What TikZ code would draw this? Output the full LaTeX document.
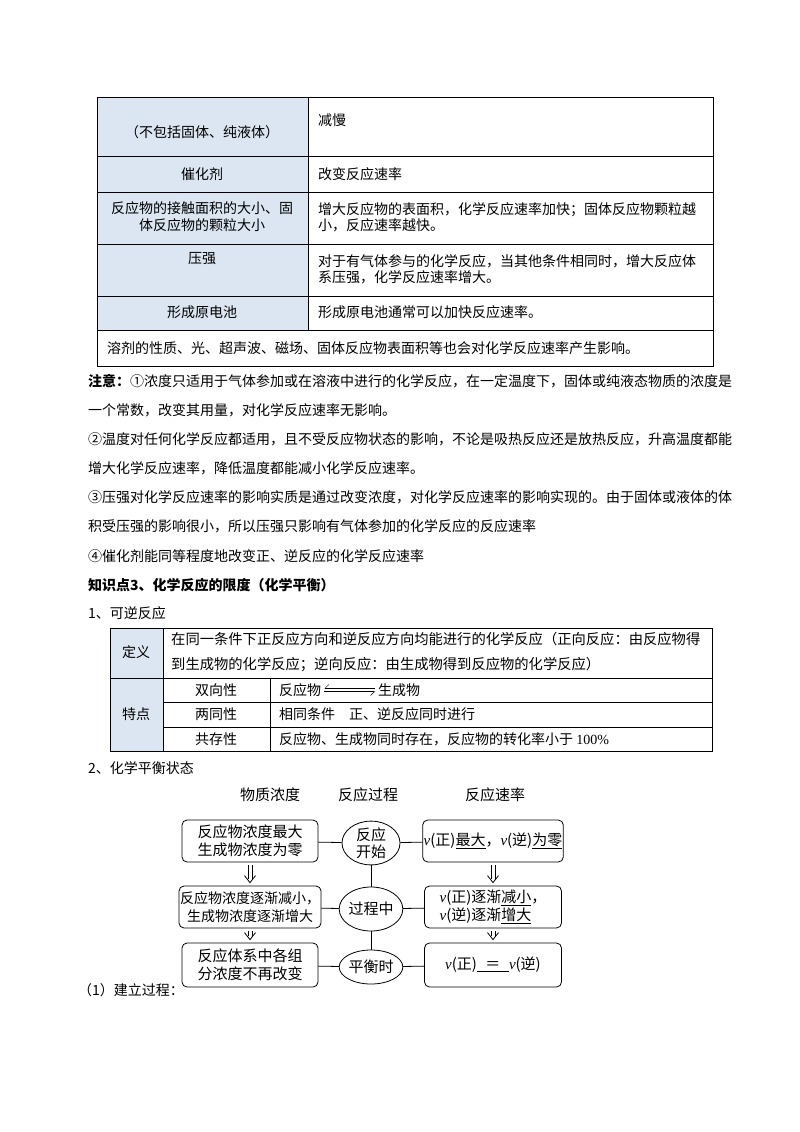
\documentclass[tikz,border=0pt]{standalone}
\usepackage{fontspec}
\setmainfont{Noto Sans CJK SC}
\newfontfamily\serifm{Liberation Serif}
\usetikzlibrary{arrows.meta,shapes.geometric}
\definecolor{hdr}{RGB}{220,230,242}
\tikzset{
 txt/.style={anchor=west,inner sep=0pt,font=\fontsize{14}{16}\selectfont},
 ctr/.style={align=center,inner sep=0pt,font=\fontsize{14}{17}\selectfont},
 fbox/.style={draw,rounded corners=5pt,thick,align=center,font=\fontsize{15}{18}\selectfont,inner sep=1pt},
 fell/.style={draw,ellipse,thick,minimum width=58pt,align=center,font=\fontsize{15}{17}\selectfont,inner sep=0pt},
 dhead/.style={line width=0.8pt},
}
\newcommand{\dblarrow}[2]{%
 \draw[dhead] ([xshift=-2pt,yshift=-3pt]#1.south) -- ([xshift=-2pt,yshift=7pt]#2.north);
 \draw[dhead] ([xshift=2pt,yshift=-3pt]#1.south) -- ([xshift=2pt,yshift=7pt]#2.north);
 \draw[dhead] ([xshift=-5.5pt,yshift=10pt]#2.north) -- ([yshift=3pt]#2.north) -- ([xshift=5.5pt,yshift=10pt]#2.north);}
\begin{document}
\begin{tikzpicture}[x=1pt,y=-1pt]
\useasboundingbox (0,0) rectangle (800,1132);
% top table
\fill[hdr] (97,97) rectangle (308,330);
\draw (97,97) rectangle (713,366);
\draw (308,97) -- (308,330);
\foreach \y in {156,192,244,296,330} \draw (97,\y) -- (713,\y);
\node[ctr] (a1) at (202,132) {（不包括固体、纯液体）};
\node[txt] (b1) at (318,120) {减慢};
\node[ctr] (a2) at (202,174) {催化剂};
\node[txt] (b2) at (318,174) {改变反应速率};
\node[ctr] (a3) at (202,217) {反应物的接触面积的大小、固\\体反应物的颗粒大小};
\node[txt,align=left] (b3) at (318,217) {增大反应物的表面积，化学反应速率加快；固体反应物颗粒越\\小，反应速率越快。};
\node[ctr] (a4) at (202,259) {压强};
\node[txt,align=left] (b4) at (318,269) {对于有气体参与的化学反应，当其他条件相同时，增大反应体\\系压强，化学反应速率增大。};
\node[ctr] (a5) at (202,312) {形成原电池};
\node[txt] (b5) at (318,312) {形成原电池通常可以加快反应速率。};
\node[txt] (c6) at (107,348) {溶剂的性质、光、超声波、磁场、固体反应物表面积等也会对化学反应速率产生影响。};
% notes
\node[txt] (n1) at (88,381) {\textbf{注意：}①浓度只适用于气体参加或在溶液中进行的化学反应，在一定温度下，固体或纯液态物质的浓度是};
\node[txt] (n2) at (88,410) {一个常数，改变其用量，对化学反应速率无影响。};
\node[txt] (n3) at (88,439) {②温度对任何化学反应都适用，且不受反应物状态的影响，不论是吸热反应还是放热反应，升高温度都能};
\node[txt] (n4) at (88,468) {增大化学反应速率，降低温度都能减小化学反应速率。};
\node[txt] (n5) at (88,497) {③压强对化学反应速率的影响实质是通过改变浓度，对化学反应速率的影响实现的。由于固体或液体的体};
\node[txt] (n6) at (88,526) {积受压强的影响很小，所以压强只影响有气体参加的化学反应的反应速率};
\node[txt] (n7) at (88,556) {④催化剂能同等程度地改变正、逆反应的化学反应速率};
\node[txt] (n8) at (88,585) {\textbf{知识点3、化学反应的限度（化学平衡）}};
\node[txt] (n9) at (88,613) {1、可逆反应};
% reversible table
\fill[hdr] (110,628) rectangle (163,751);
\draw (110,628) rectangle (712,751);
\draw (163,628) -- (163,751);
\draw (110,678) -- (712,678);
\draw (163,702) -- (712,702);
\draw (163,727) -- (712,727);
\draw (270,678) -- (270,751);
\node[ctr] (d0) at (136,652) {定义};
\node[txt,align=left,font=\fontsize{14.3}{25}\selectfont] (d1) at (171,652) {在同一条件下正反应方向和逆反应方向均能进行的化学反应（正向反应：由反应物得\\到生成物的化学反应；逆向反应：由生成物得到反应物的化学反应）};
\node[ctr] (t0) at (136,714) {特点};
\node[ctr] (t1) at (216,690) {双向性};
\node[ctr] (t2) at (216,714) {两同性};
\node[ctr] (t3) at (216,739) {共存性};
\node[txt] (u1) at (279,690) {反应物};
\node[txt] (u1b) at (378,690) {生成物};
\draw[-{Straight Barb[right,length=4pt]}] ([xshift=3pt,yshift=-1.5pt]u1.east) -- ([xshift=-3pt,yshift=-1.5pt]u1b.west);
\draw[-{Straight Barb[right,length=4pt]}] ([xshift=-3pt,yshift=1.5pt]u1b.west) -- ([xshift=3pt,yshift=1.5pt]u1.east);
\node[txt] (u2) at (279,714) {相同条件\quad 正、逆反应同时进行};
\node[txt] (u3) at (279,739) {反应物、生成物同时存在，反应物的转化率小于 {\serifm 100\%}};
\node[txt] (s2) at (88,768) {2、化学平衡状态};
% flowchart
\node[ctr,font=\fontsize{15}{17}\selectfont] (h1) at (270,795) {物质浓度};
\node[ctr,font=\fontsize{15}{17}\selectfont] (h2) at (368,795) {反应过程};
\node[ctr,font=\fontsize{15}{17}\selectfont] (h3) at (495,795) {反应速率};
\node[fbox,minimum width=136pt,minimum height=42pt] (L1) at (250,841) {反应物浓度最大\\生成物浓度为零};
\node[fbox,minimum width=136pt,minimum height=42pt,font=\fontsize{14}{18}\selectfont] (L2) at (250,907) {反应物浓度逐渐减小，\\生成物浓度逐渐增大};
\node[fbox,minimum width=136pt,minimum height=44pt] (L3) at (250,965) {反应体系中各组\\分浓度不再改变};
\node[fbox,minimum width=137pt,minimum height=42pt] (R1) at (493,841) {{\serifm\itshape v}(正)\underline{最大}，{\serifm\itshape v}(逆)\underline{为零}};
\node[fbox,minimum width=137pt,minimum height=42pt,align=left] (R2) at (493,907) {{\serifm\itshape v}(正)逐渐\underline{减小}，\\{\serifm\itshape v}(逆)逐渐\underline{增大}};
\node[fbox,minimum width=137pt,minimum height=44pt] (R3) at (493,965) {{\serifm\itshape v}(正)\underline{\hbox to 32pt{\hfil ＝\hfil}}{\serifm\itshape v}(逆)};
\node[fell,minimum height=38pt] (E1) at (371,843) {反应\\开始};
\node[fell,minimum height=44pt] (E2) at (371,909) {过程中};
\node[fell,minimum height=34pt] (E3) at (371,967) {平衡时};
\draw[thick] (L1) -- (E1) -- (R1);
\draw[thick] (L2) -- (E2) -- (R2);
\draw[thick] (L3) -- (E3) -- (R3);
\draw[thick] (E1) -- (E2) -- (E3);
\dblarrow{L1}{L2}
\dblarrow{L2}{L3}
\dblarrow{R1}{R2}
\dblarrow{R2}{R3}
\node[txt] (p1) at (78,990) {（1）建立过程：};
\end{tikzpicture}
\end{document}
